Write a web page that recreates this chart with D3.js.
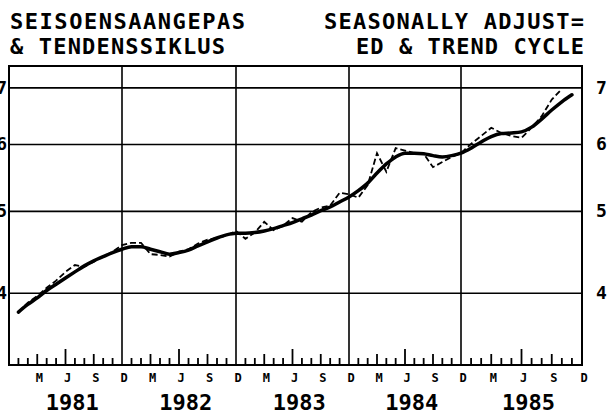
<!DOCTYPE html>
<html>
<head>
<meta charset="utf-8">
<style>
  body { margin: 0; background: #fff; }
  svg { display: block; }
  .grid { stroke: #000; stroke-width: 1.6; }
  .frame { fill: none; stroke: #000; stroke-width: 2; }
  text { font-family: "DejaVu Sans Mono", monospace; font-weight: bold; fill: #000; }
</style>
</head>
<body>
<svg class="chart"></svg>
<script src="https://d3js.org/d3.v7.min.js"></script>
<script>
// titles (Afrikaans left, English right)
const titleLeft = ["SEISOENSAANGEPAS", "& TENDENSSIKLUS"];
const titleRight = ["SEASONALLY ADJUST=", "ED & TREND CYCLE"];

const years = ["1981", "1982", "1983", "1984", "1985"];
const monthLabels = ["M", "J", "S", "D"];
const yTicks = [4, 5, 6, 7];

// month index 1 = Jan 1981 ... 59 = Nov 1985
const trendValues = [
  3.80, 3.88, 3.95, 4.03, 4.10, 4.17, 4.24, 4.31, 4.37, 4.42, 4.47, 4.51,
  4.54, 4.54, 4.51, 4.48, 4.45, 4.47, 4.50, 4.55, 4.60, 4.65, 4.69, 4.71,
  4.71, 4.72, 4.74, 4.77, 4.81, 4.85, 4.90, 4.95, 5.01, 5.06, 5.13, 5.20,
  5.29, 5.40, 5.55, 5.69, 5.80, 5.86, 5.86, 5.85, 5.82, 5.80, 5.82, 5.86,
  5.94, 6.04, 6.13, 6.18, 6.19, 6.21, 6.29, 6.43, 6.59, 6.74, 6.87
];
const adjustedValues = [
  3.80, 3.90, 3.97, 4.06, 4.14, 4.24, 4.32, 4.30, 4.36, 4.42, 4.48, 4.56,
  4.59, 4.59, 4.45, 4.44, 4.42, 4.48, 4.51, 4.58, 4.63, 4.65, 4.68, 4.74,
  4.64, 4.72, 4.86, 4.75, 4.81, 4.91, 4.86, 4.99, 5.05, 5.08, 5.26, 5.24,
  5.19, 5.37, 5.86, 5.57, 5.94, 5.90, 5.86, 5.85, 5.64, 5.72, 5.80, 5.86,
  6.01, 6.14, 6.28, 6.19, 6.14, 6.11, 6.28, 6.48, 6.78, 6.98
];

const width = 611, height = 414;
const svg = d3.select(".chart").attr("width", width).attr("height", height);

// x: months since Dec 1980, gridlines every December (scan is a bit uneven)
const x = d3.scaleLinear()
  .domain([0, 12, 24, 36, 48, 60])
  .range([9, 122, 236, 349, 461, 582]);
// y: log scale
const y = d3.scaleLog().domain([3.29, 7.43]).range([365, 66]);

// grid
svg.append("g").selectAll("line")
  .data(yTicks)
  .join("line")
  .attr("class", "grid")
  .attr("x1", x(0)).attr("x2", x(60))
  .attr("y1", d => y(d)).attr("y2", d => y(d));

svg.append("g").selectAll("line")
  .data([12, 24, 36, 48])
  .join("line")
  .attr("class", "grid")
  .attr("x1", d => x(d)).attr("x2", d => x(d))
  .attr("y1", y.range()[1]).attr("y2", y.range()[0]);

svg.append("rect")
  .attr("class", "frame")
  .attr("x", x(0)).attr("y", y.range()[1])
  .attr("width", x(60) - x(0))
  .attr("height", y.range()[0] - y.range()[1]);

// monthly ticks on the bottom edge
const tickMonths = d3.range(1, 60).filter(m => m % 12 != 0);
svg.append("g").selectAll("line")
  .data(tickMonths)
  .join("line")
  .attr("stroke", "#000")
  .attr("stroke-width", 1.8)
  .attr("x1", d => x(d)).attr("x2", d => x(d))
  .attr("y1", y.range()[0])
  .attr("y2", d => {
    const m = d % 12;
    const h = m == 6 ? 16 : (m == 3 || m == 9) ? 11 : 7;
    return y.range()[0] - h;
  });

// month letters
const labelMonths = d3.range(1, 21).map(i => i * 3);
svg.append("g").selectAll("text")
  .data(labelMonths)
  .join("text")
  .attr("x", d => x(d) + 2)
  .attr("y", 382)
  .attr("text-anchor", "middle")
  .attr("font-size", 12)
  .text(d => monthLabels[(d / 3 - 1) % 4]);

// years
svg.append("g").selectAll("text")
  .data(years)
  .join("text")
  .attr("x", (d, i) => x(i * 12 + 6.5) + 2)
  .attr("y", 410)
  .attr("text-anchor", "middle")
  .attr("font-size", 22)
  .text(d => d);

// y labels, right and (clipped by the page edge) left
svg.append("g").selectAll("text")
  .data(yTicks)
  .join("text")
  .attr("x", 596)
  .attr("y", d => y(d) + 6)
  .attr("font-size", 18)
  .text(d => d);

svg.append("g").selectAll("text")
  .data(yTicks)
  .join("text")
  .attr("x", 7)
  .attr("y", d => y(d) + 6)
  .attr("text-anchor", "end")
  .attr("font-size", 18)
  .text(d => d);

// titles
const leftLen = [235, 215], rightLen = [260, 228];
svg.append("g").selectAll("text")
  .data(titleLeft)
  .join("text")
  .attr("x", 10)
  .attr("y", (d, i) => 29 + i * 25)
  .attr("font-size", 22)
  .attr("textLength", (d, i) => leftLen[i])
  .attr("lengthAdjust", "spacing")
  .text(d => d);

svg.append("g").selectAll("text")
  .data(titleRight)
  .join("text")
  .attr("x", (d, i) => 584 - rightLen[i])
  .attr("y", (d, i) => 29 + i * 25)
  .attr("font-size", 22)
  .attr("textLength", (d, i) => rightLen[i])
  .attr("lengthAdjust", "spacing")
  .text(d => d);

// series
const line = d3.line()
  .x((d, i) => x(i + 1))
  .y(d => y(d));

svg.append("path")
  .datum(adjustedValues)
  .attr("fill", "none")
  .attr("stroke", "#000")
  .attr("stroke-width", 1.8)
  .attr("stroke-dasharray", "6,3")
  .attr("d", line);

svg.append("path")
  .datum(trendValues)
  .attr("fill", "none")
  .attr("stroke", "#000")
  .attr("stroke-width", 3.5)
  .attr("stroke-linejoin", "round")
  .attr("stroke-linecap", "round")
  .attr("d", line.curve(d3.curveMonotoneX));
</script>
</body>
</html>
